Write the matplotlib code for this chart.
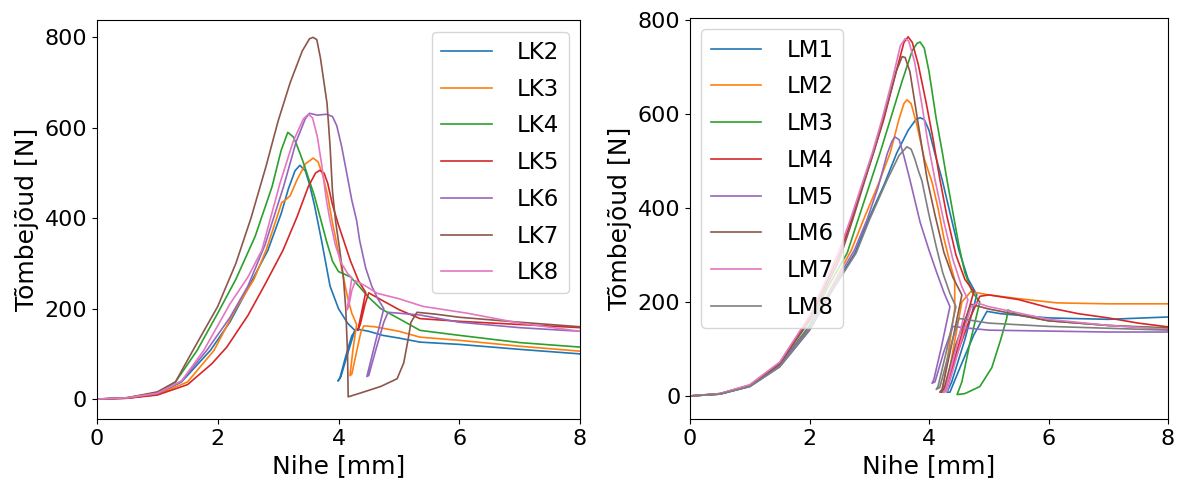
import matplotlib
matplotlib.use("Agg")
import matplotlib.pyplot as plt

# ---- left panel: LK series (displacement mm, force N)
LK2_X = [0, 0.5, 1.0, 1.4, 1.88, 2.2, 2.5, 2.83, 3.05, 3.17, 3.28, 3.36, 3.45, 3.52, 3.6, 3.72, 3.86, 4.0, 4.15, 4.27,
         4.15, 4.04, 3.99, 4.02, 4.12, 4.22, 4.3, 4.5, 4.73, 5.0, 5.35, 6.0, 7.0, 8.0]
LK2_Y = [0, 2, 11, 38, 108, 170, 245, 329, 410, 465, 505, 517, 505, 475, 430, 350, 250, 200, 168, 152,
         100, 50, 40, 45, 95, 140, 155, 150, 141, 135, 126, 121, 110, 100]

LK3_X = [0, 0.5, 1.0, 1.5, 1.94, 2.3, 2.6, 2.8, 3.0, 3.06, 3.12, 3.2, 3.31, 3.45, 3.58, 3.66, 3.74, 3.82, 3.9, 3.96,
         4.05, 4.15, 4.22, 4.3, 4.24, 4.19, 4.22, 4.3, 4.37, 4.42, 4.6, 5.0, 5.35, 6.0, 7.0, 8.0]
LK3_Y = [0, 2, 10, 38, 108, 200, 265, 329, 410, 435, 440, 450, 484, 520, 533, 525, 495, 450, 390, 351,
         290, 225, 190, 165, 110, 52, 55, 105, 148, 162, 160, 150, 137, 130, 117, 106]

LK4_X = [0, 0.5, 1.0, 1.3, 1.66, 2.0, 2.3, 2.62, 2.9, 3.05, 3.16, 3.25, 3.3, 3.4, 3.5, 3.6, 3.7, 3.8, 3.9, 4.0,
         4.07, 4.2, 4.35, 4.5, 4.7, 5.0, 5.35, 6.0, 7.0, 8.0]
LK4_Y = [0, 3, 14, 38, 108, 190, 265, 360, 470, 550, 590, 580, 565, 530, 490, 450, 400, 350, 305, 282,
         278, 270, 248, 225, 200, 178, 152, 141, 125, 115]

LK5_X = [0, 0.5, 1.0, 1.5, 1.9, 2.15, 2.5, 2.8, 3.08, 3.31, 3.5, 3.62, 3.69, 3.76, 3.82, 3.9, 4.0, 4.1, 4.2, 4.33,
         4.45, 4.38, 4.32, 4.36, 4.44, 4.5, 4.7, 5.0, 5.35, 6.0, 7.0, 8.0]
LK5_Y = [0, 2, 9, 32, 78, 115, 185, 258, 329, 402, 470, 500, 506, 500, 478, 430, 385, 345, 305, 262,
         236, 190, 152, 165, 210, 235, 220, 198, 178, 172, 165, 158]

LK6_X = [0, 0.5, 1.0, 1.4, 1.82, 2.2, 2.5, 2.78, 3.09, 3.3, 3.45, 3.52, 3.65, 3.8, 3.9, 3.97, 4.05, 4.15, 4.22, 4.3,
         4.35, 4.45, 4.55, 4.65, 4.75, 4.6, 4.47, 4.5, 4.62, 4.75, 4.82, 5.0, 5.35, 6.0, 7.0, 8.0]
LK6_Y = [0, 3, 12, 40, 108, 180, 250, 340, 470, 570, 620, 632, 628, 630, 625, 605, 560, 490, 440, 395,
         351, 290, 250, 222, 200, 120, 50, 52, 110, 170, 192, 190, 186, 170, 158, 150]

LK7_X = [0, 0.5, 1.0, 1.3, 1.59, 2.0, 2.3, 2.55, 2.8, 3.0, 3.2, 3.4, 3.52, 3.58, 3.64, 3.7, 3.76, 3.81, 3.86, 3.9,
         3.95, 4.02, 4.08, 4.12, 4.15, 4.16, 4.4, 4.7, 4.97, 5.08, 5.15, 5.2, 5.3, 5.6, 6.0, 7.0, 8.0]
LK7_Y = [0, 3, 16, 38, 108, 205, 300, 400, 515, 615, 700, 770, 797, 800, 795, 755, 700, 654, 560, 460,
         395, 330, 270, 200, 100, 5, 15, 28, 45, 80, 130, 170, 192, 188, 181, 170, 160]

LK8_X = [0, 0.5, 1.0, 1.4, 1.77, 2.2, 2.5, 2.73, 3.03, 3.25, 3.42, 3.5, 3.57, 3.65, 3.72, 3.8, 3.86, 3.95, 4.05, 4.15,
         4.22, 4.18, 4.14, 4.17, 4.22, 4.28, 4.45, 4.64, 5.0, 5.4, 6.13, 7.0, 8.0]
LK8_Y = [0, 3, 13, 40, 108, 210, 270, 329, 477, 570, 620, 630, 622, 580, 520, 440, 395, 340, 300, 278,
         268, 230, 197, 205, 240, 262, 250, 234, 222, 205, 190, 168, 150]

# ---- right panel: LM series
LM1_X = [0, 0.5, 1.0, 1.5, 2.0, 2.4, 2.76, 2.98, 3.25, 3.46, 3.65, 3.78, 3.85, 3.92, 4.0, 4.1, 4.22, 4.35, 4.5, 4.65,
         4.8, 4.6, 4.38, 4.3, 4.35, 4.55, 4.75, 4.97, 5.2, 6.0, 7.0, 8.0]
LM1_Y = [0, 4, 20, 62, 140, 230, 304, 374, 450, 517, 565, 588, 592, 588, 565, 515, 460, 390, 310, 250,
         215, 120, 30, 8, 8, 70, 130, 180, 175, 166, 163, 168]

LM2_X = [0, 0.5, 1.0, 1.5, 2.0, 2.4, 2.7, 2.9, 3.15, 3.35, 3.5, 3.58, 3.63, 3.7, 3.8, 3.92, 4.05, 4.15, 4.25, 4.35,
         4.43, 4.43, 4.32, 4.22, 4.28, 4.42, 4.55, 4.7, 5.0, 5.5, 6.14, 7.0, 8.0]
LM2_Y = [0, 4, 21, 64, 145, 240, 310, 374, 450, 517, 590, 622, 630, 622, 575, 505, 455, 400, 335, 283,
         247, 185, 90, 8, 10, 110, 200, 222, 215, 207, 198, 196, 196]

LM3_X = [0, 0.5, 1.0, 1.5, 2.0, 2.3, 2.63, 2.81, 3.18, 3.35, 3.55, 3.72, 3.8, 3.85, 3.92, 4.0, 4.12, 4.22, 4.3, 4.4,
         4.5, 4.6, 4.72, 4.85, 4.68, 4.55, 4.47, 4.6, 4.85, 5.05, 5.2, 5.3, 5.32, 5.5, 6.0, 7.0, 8.0]
LM3_Y = [0, 4, 21, 66, 150, 230, 304, 374, 517, 587, 670, 735, 750, 753, 740, 690, 590, 520, 460, 390,
         320, 262, 222, 200, 110, 30, 3, 5, 20, 60, 120, 165, 183, 172, 160, 150, 145]

LM4_X = [0, 0.5, 1.0, 1.5, 2.0, 2.5, 2.7, 3.07, 3.24, 3.45, 3.58, 3.65, 3.72, 3.82, 3.95, 4.07, 4.18, 4.3, 4.45, 4.6,
         4.75, 4.5, 4.28, 4.2, 4.26, 4.5, 4.7, 4.85, 5.0, 5.5, 6.0, 6.5, 7.0, 7.5, 8.0]
LM4_Y = [0, 5, 23, 70, 165, 300, 374, 517, 587, 690, 752, 764, 752, 705, 625, 545, 462, 382, 300, 248,
         222, 110, 20, 8, 10, 100, 170, 212, 215, 205, 188, 175, 166, 155, 147]

LM5_X = [0, 0.5, 1.0, 1.5, 2.0, 2.4, 2.75, 2.96, 3.15, 3.3, 3.38, 3.43, 3.5, 3.58, 3.68, 3.85, 4.0, 4.13, 4.25, 4.35,
         4.2, 4.08, 4.05, 4.1, 4.25, 4.4, 4.6, 5.0, 6.0, 7.0, 8.0]
LM5_Y = [0, 4, 21, 66, 145, 235, 310, 374, 445, 515, 542, 551, 545, 510, 460, 370, 310, 262, 220, 190,
         100, 35, 27, 30, 95, 148, 145, 140, 138, 136, 136]

LM6_X = [0, 0.5, 1.0, 1.5, 2.0, 2.5, 2.72, 3.1, 3.3, 3.45, 3.55, 3.6, 3.68, 3.78, 3.88, 3.97, 4.1, 4.25, 4.4, 4.55,
         4.38, 4.22, 4.18, 4.24, 4.45, 4.7, 5.0, 6.0, 7.0, 8.0]
LM6_Y = [0, 5, 22, 68, 160, 290, 374, 530, 620, 690, 722, 720, 690, 610, 530, 460, 385, 305, 252, 215,
         110, 15, 8, 10, 110, 195, 185, 160, 150, 143]

LM7_X = [0, 0.5, 1.0, 1.5, 2.0, 2.48, 2.68, 3.05, 3.21, 3.4, 3.52, 3.6, 3.66, 3.76, 3.88, 3.98, 4.1, 4.25, 4.4, 4.55,
         4.65, 4.45, 4.28, 4.24, 4.3, 4.5, 4.7, 4.8, 5.0, 6.0, 7.0, 8.0]
LM7_Y = [0, 5, 24, 72, 170, 304, 374, 517, 587, 680, 745, 760, 755, 710, 620, 540, 460, 370, 290, 232,
         205, 100, 15, 8, 10, 100, 188, 198, 190, 163, 150, 142]

LM8_X = [0, 0.5, 1.0, 1.5, 2.0, 2.4, 2.78, 3.0, 3.3, 3.5, 3.63, 3.7, 3.76, 3.82, 3.88, 4.0, 4.12, 4.23, 4.35, 4.45,
         4.3, 4.15, 4.12, 4.18, 4.35, 4.5, 5.0, 6.0, 7.0, 8.0]
LM8_Y = [0, 4, 20, 62, 140, 228, 304, 374, 460, 512, 530, 525, 505, 480, 458, 385, 318, 262, 218, 190,
         100, 20, 14, 18, 100, 165, 155, 148, 144, 140]

left_series = [("LK2", LK2_X, LK2_Y), ("LK3", LK3_X, LK3_Y), ("LK4", LK4_X, LK4_Y),
               ("LK5", LK5_X, LK5_Y), ("LK6", LK6_X, LK6_Y), ("LK7", LK7_X, LK7_Y),
               ("LK8", LK8_X, LK8_Y)]
right_series = [("LM1", LM1_X, LM1_Y), ("LM2", LM2_X, LM2_Y), ("LM3", LM3_X, LM3_Y),
                ("LM4", LM4_X, LM4_Y), ("LM5", LM5_X, LM5_Y), ("LM6", LM6_X, LM6_Y),
                ("LM7", LM7_X, LM7_Y), ("LM8", LM8_X, LM8_Y)]

fig = plt.figure(figsize=(11.84, 4.84), dpi=100)
ax1 = fig.add_axes([0.0819, 0.1343, 0.408, 0.824])
ax2 = fig.add_axes([0.5828, 0.1343, 0.4037, 0.8285])

for name, xs, ys in left_series:
    ax1.plot(xs, ys, lw=1.2, label=name)
for name, xs, ys in right_series:
    ax2.plot(xs, ys, lw=1.2, label=name)

ax1.set_xlim(0, 8)
ax1.set_ylim(-44, 838)
ax2.set_xlim(0, 8)
ax2.set_ylim(-49, 804)

for ax in (ax1, ax2):
    ax.set_xticks([0, 2, 4, 6, 8])
    ax.set_yticks([0, 200, 400, 600, 800])
    ax.tick_params(labelsize=16)
    ax.set_xlabel("Nihe [mm]", fontsize=18)
    ax.set_ylabel("Tõmbejõud [N]", fontsize=18)

leg_kw = dict(fontsize=16.5, labelspacing=0.6, handletextpad=1.1, handlelength=2.2)
ax1.legend(loc="upper right", **leg_kw)
ax2.legend(loc="upper left", **leg_kw)

fig.savefig("out.png", dpi=100)
